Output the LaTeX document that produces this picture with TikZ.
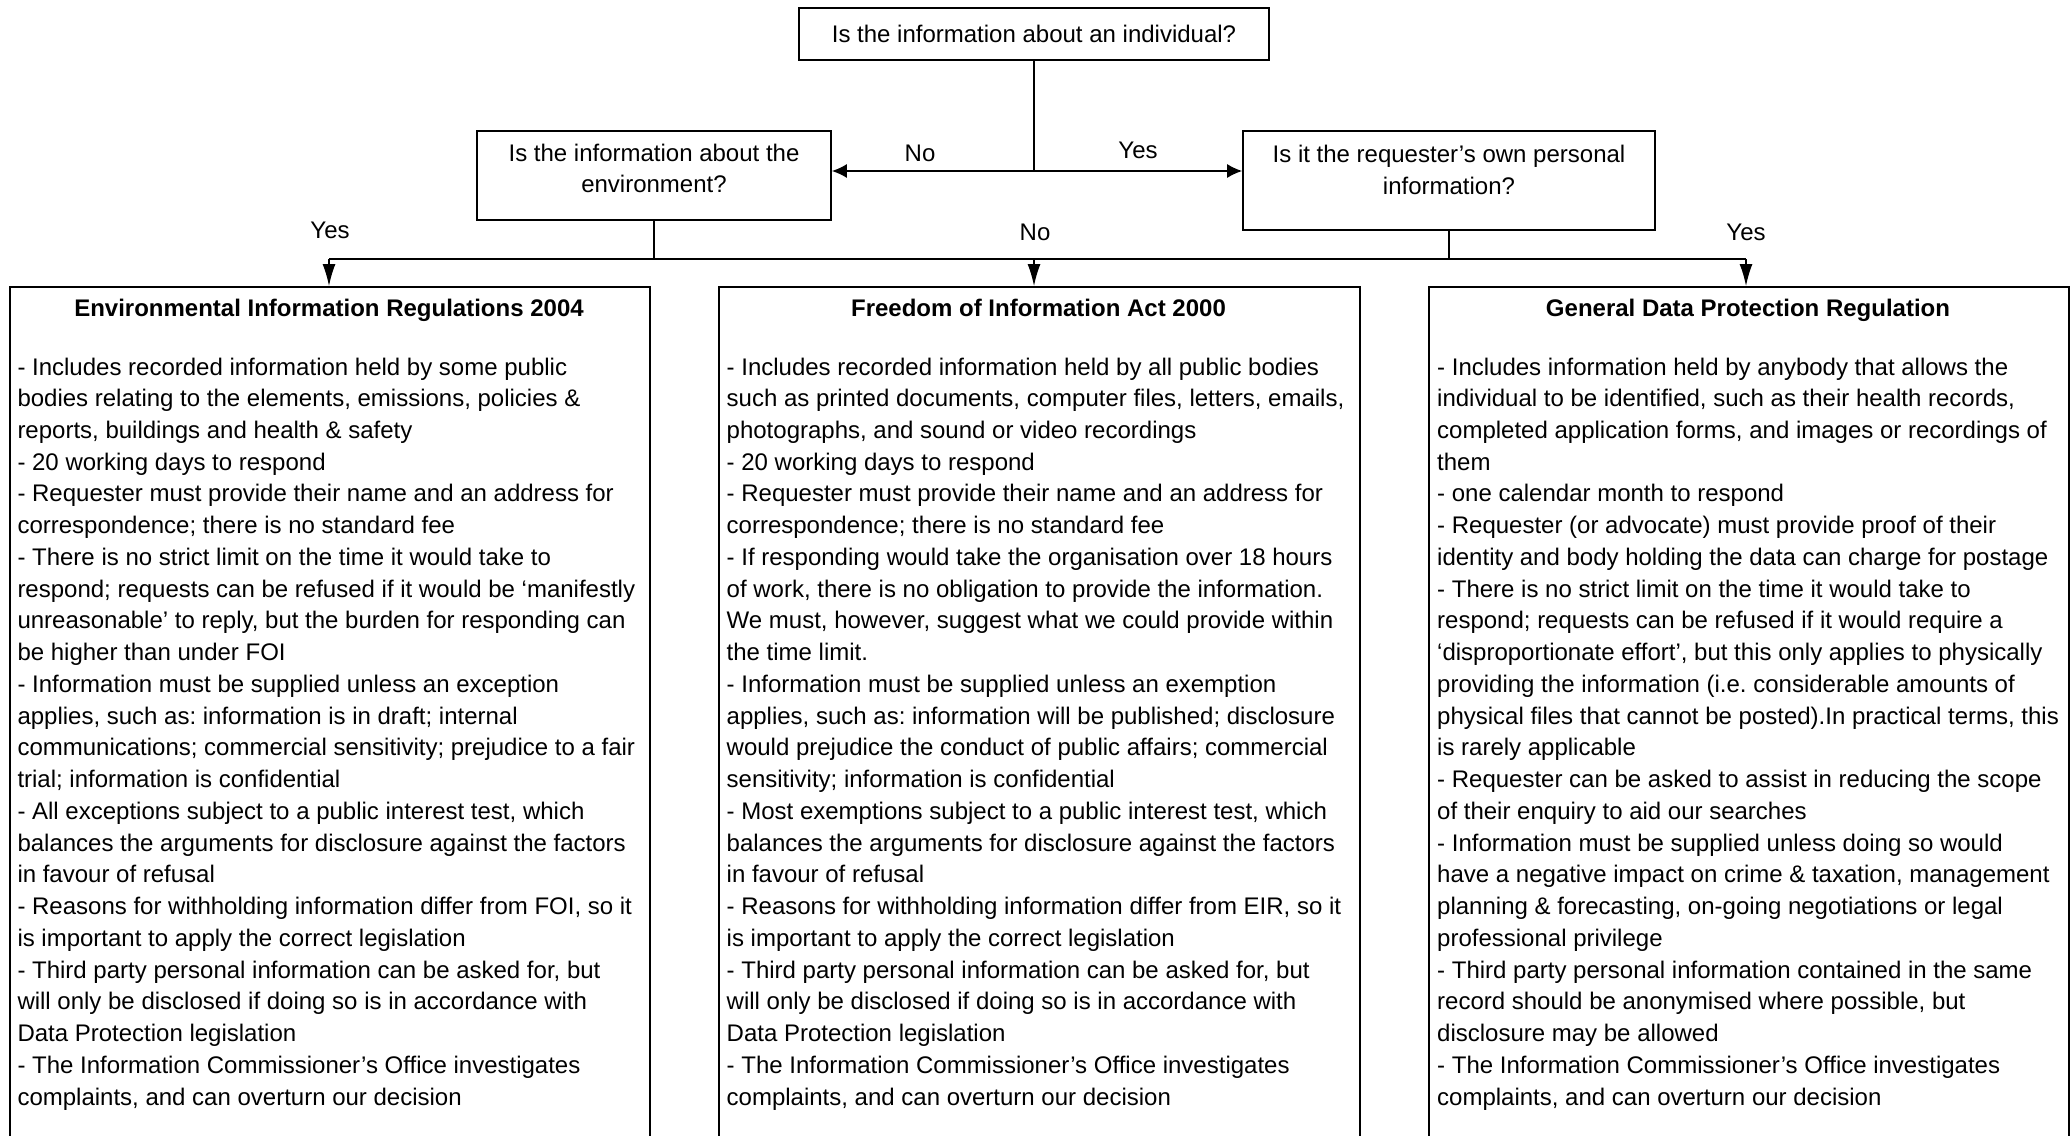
\documentclass[tikz,border=0pt]{standalone}
\usepackage{fontspec}
\setmainfont{Liberation Sans}
\usetikzlibrary{arrows.meta}
\tikzset{
  qbox/.style={draw, line width=1.8pt, inner sep=0pt, align=center, font=\fontsize{24}{31.74}\selectfont},
  qtext/.style={inner sep=0pt, align=center, font=\fontsize{24}{31.74}\selectfont},
  bigbox/.style={draw, line width=1.6pt, anchor=north west, minimum width=640, minimum height=900, inner sep=0pt},
  conn/.style={line width=1.3pt},
  busline/.style={line width=1.8pt},
  sidearrow/.style={conn, -{Latex[length=15pt,width=14pt]}},
  downarrow/.style={conn, -{Latex[length=22pt,width=13pt]}},
  lbl/.style={inner sep=0pt, font=\fontsize{24}{31.74}\selectfont},
  ttl/.style={inner sep=0pt, anchor=base, font=\fontsize{24}{31.74}\selectfont\bfseries},
  bodytext/.style={inner sep=0pt, anchor=base west, font=\fontsize{24}{31.74}\selectfont\frenchspacing}
}
\begin{document}
\begin{tikzpicture}[x=1pt, y=-1pt]
\clip (0,0) rectangle (2071,1135);
\fill[white] (0,0) rectangle (2071,1135);

% question boxes
\node[qbox, minimum width=470, minimum height=52] (qind) at (1034,34) {Is the information about an individual?};
\node[qbox, minimum width=354, minimum height=89] (qenv) at (654,175.5) {};
\node[qtext] (qenvtext) at (654,168.5) {Is the information about the\\environment?};
\node[qbox, minimum width=412, minimum height=99] (qper) at (1449,180.5) {};
\node[qtext] (qpertext) at (1449,170) {Is it the requester’s own personal\\information?};

% answer boxes
\node[bigbox] (eir) at (9,286) {};
\node[bigbox, minimum width=641] (foi) at (718,286) {};
\node[bigbox] (gdpr) at (1428,286) {};

% connectors
\coordinate (split) at (1034,171);
\draw[conn] (qind.south) -- (split);
\draw[sidearrow] (split) -- (split -| qenv.east);
\draw[sidearrow] (split) -- (split -| qper.west);

\coordinate (busL) at (329,259);
\coordinate (busM) at (1034,259);
\coordinate (busR) at (1746,259);
\draw[busline] (busL) -- (busR);
\draw[conn] (qenv.south) -- (qenv.south |- busM);
\draw[conn] (qper.south) -- (qper.south |- busM);
\draw[downarrow] (busL) -- (busL |- eir.north);
\draw[downarrow] (busM) -- (busM |- foi.north);
\draw[downarrow] (busR) -- (busR |- gdpr.north);

% labels
\node[lbl] (lno1) at (920,153) {No};
\node[lbl] (lyes1) at (1138,150) {Yes};
\node[lbl] (lyes2) at (330,230) {Yes};
\node[lbl] (lno2) at (1035,232) {No};
\node[lbl] (lyes3) at (1746,232) {Yes};

% titles
\node[ttl] (eirtitle) at (329,316.7) {Environmental Information Regulations 2004};
\node[ttl] (foititle) at (1038.5,316.7) {Freedom of Information Act 2000};
\node[ttl] (gdprtitle) at (1748,316.7) {General Data Protection Regulation};

% bodies
\node[bodytext] (eirbody) at (17.3,375) {\parbox[t]{700pt}{%
- Includes recorded information held by some public\\
bodies relating to the elements, emissions, policies \&\\
reports, buildings and health \& safety\\
- 20 working days to respond\\
- Requester must provide their name and an address for\\
correspondence; there is no standard fee\\
- There is no strict limit on the time it would take to\\
respond; requests can be refused if it would be ‘manifestly\\
unreasonable’ to reply, but the burden for responding can\\
be higher than under FOI\\
- Information must be supplied unless an exception\\
applies, such as: information is in draft; internal\\
communications; commercial sensitivity; prejudice to a fair\\
trial; information is confidential\\
- All exceptions subject to a public interest test, which\\
balances the arguments for disclosure against the factors\\
in favour of refusal\\
- Reasons for withholding information differ from FOI, so it\\
is important to apply the correct legislation\\
- Third party personal information can be asked for, but\\
will only be disclosed if doing so is in accordance with\\
Data Protection legislation\\
- The Information Commissioner’s Office investigates\\
complaints, and can overturn our decision}};

\node[bodytext] (foibody) at (726.5,375) {\parbox[t]{700pt}{%
- Includes recorded information held by all public bodies\\
such as printed documents, computer files, letters, emails,\\
photographs, and sound or video recordings\\
- 20 working days to respond\\
- Requester must provide their name and an address for\\
correspondence; there is no standard fee\\
- If responding would take the organisation over 18 hours\\
of work, there is no obligation to provide the information.\\
We must, however, suggest what we could provide within\\
the time limit.\\
- Information must be supplied unless an exemption\\
applies, such as: information will be published; disclosure\\
would prejudice the conduct of public affairs; commercial\\
sensitivity; information is confidential\\
- Most exemptions subject to a public interest test, which\\
balances the arguments for disclosure against the factors\\
in favour of refusal\\
- Reasons for withholding information differ from EIR, so it\\
is important to apply the correct legislation\\
- Third party personal information can be asked for, but\\
will only be disclosed if doing so is in accordance with\\
Data Protection legislation\\
- The Information Commissioner’s Office investigates\\
complaints, and can overturn our decision}};

\node[bodytext] (gdprbody) at (1437,375) {\parbox[t]{700pt}{%
- Includes information held by anybody that allows the\\
individual to be identified, such as their health records,\\
completed application forms, and images or recordings of\\
them\\
- one calendar month to respond\\
- Requester (or advocate) must provide proof of their\\
identity and body holding the data can charge for postage\\
- There is no strict limit on the time it would take to\\
respond; requests can be refused if it would require a\\
‘disproportionate effort’, but this only applies to physically\\
providing the information (i.e. considerable amounts of\\
physical files that cannot be posted).In practical terms, this\\
is rarely applicable\\
- Requester can be asked to assist in reducing the scope\\
of their enquiry to aid our searches\\
- Information must be supplied unless doing so would\\
have a negative impact on crime \& taxation, management\\
planning \& forecasting, on-going negotiations or legal\\
professional privilege\\
- Third party personal information contained in the same\\
record should be anonymised where possible, but\\
disclosure may be allowed\\
- The Information Commissioner’s Office investigates\\
complaints, and can overturn our decision}};
\end{tikzpicture}
\end{document}
